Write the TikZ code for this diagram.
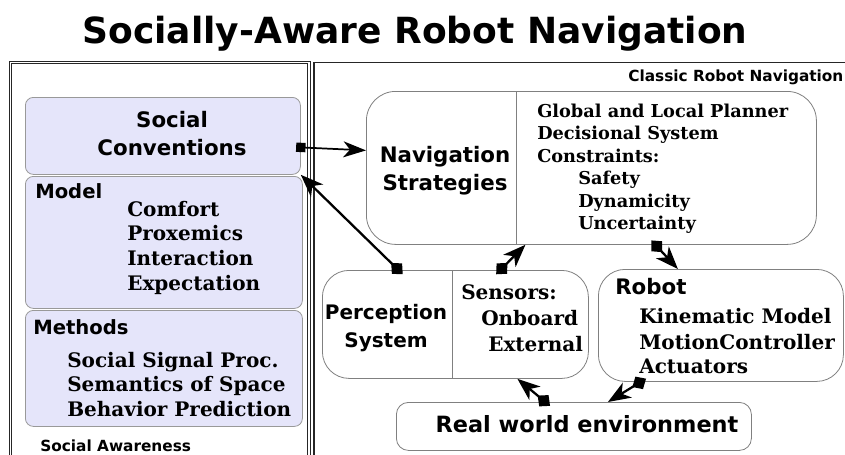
\documentclass[tikz,border=0pt]{standalone}
\usepackage{fontspec}
\setmainfont{DejaVu Serif}
\setsansfont{DejaVu Sans}
\usetikzlibrary{arrows.meta,calc}
\definecolor{lavfill}{RGB}{229,229,250}
\begin{document}
\begin{tikzpicture}[x=0.75pt,y=-0.75pt,
  lframe/.style={draw=black!85, line width=0.6pt, double=white, double distance=1.1pt},
  rframe/.style={draw=black!85, line width=1.1pt},
  lav/.style={draw=black!40, fill=lavfill, rounded corners=6pt, line width=0.6pt, anchor=north west, inner sep=0pt},
  wbox/.style={draw=black!50, fill=white, line width=0.6pt, anchor=north west, inner sep=0pt},
  ssf/.style={font=\sffamily\bfseries\fontsize{16}{19}\selectfont, inner sep=0pt},
  ssm/.style={font=\sffamily\bfseries\fontsize{14.7}{18}\selectfont, inner sep=0pt, anchor=base west},
  ssx/.style={font=\sffamily\bfseries\fontsize{11.5}{14}\selectfont, inner sep=0pt, anchor=base west},
  srf/.style={font=\rmfamily\bfseries\fontsize{15}{18}\selectfont, inner sep=0pt, anchor=base west},
  srn/.style={font=\rmfamily\bfseries\fontsize{13.3}{16}\selectfont, inner sep=0pt, anchor=base west},
  conn/.style={line width=1.7pt, shorten <=-4.5pt, {Diamond[length=12pt,width=11pt]}-{Stealth[length=17pt,width=13pt,inset=5pt]}},
  sqconn/.style={line width=1.3pt, shorten <=-3.5pt, {Square[length=7pt,width=7pt]}-{Stealth[length=17pt,width=12pt,inset=5pt]}}
]
\useasboundingbox (0,0) rectangle (845,454);
\fill[white] (0,0) rectangle (845,454);

% title
\node[font=\sffamily\bfseries\fontsize{27}{32}\selectfont, anchor=base, inner sep=0pt] (title) at (415,43) {Socially-Aware Robot Navigation};

% outer frames
\draw[lframe] (10.5,62.5) rectangle (309,480);
\draw[rframe] (314,62.5) rectangle (880,480);

% left column
\node[lav, minimum width=206.25pt, minimum height=57.75pt] (soc) at (25,97) {};
\node[lav, minimum width=207.75pt, minimum height=99pt] (model) at (25,176) {};
\node[lav, minimum width=207.75pt, minimum height=87pt] (meth) at (25,310) {};

\node[ssf, anchor=base] (socA) at (172,127) {Social};
\node[ssf, anchor=base] (socB) at (172,155) {Conventions};

\node[ssm] (modelL) at (35,198) {Model};
\node[srf] (m1) at (127,216) {Comfort};
\node[srf] (m2) at (127,240.5) {Proxemics};
\node[srf] (m3) at (127,265.5) {Interaction};
\node[srf] (m4) at (127,290) {Expectation};

\node[ssm] (methL) at (33,334) {Methods};
\node[srf] (t1) at (67,367) {Social Signal Proc.};
\node[srf] (t2) at (67,391.5) {Semantics of Space};
\node[srf] (t3) at (67,416) {Behavior Prediction};

\node[ssx] (saw) at (40,451) {Social Awareness};
\node[ssx] (crn) at (628,81) {Classic Robot Navigation};

% right column boxes
\node[wbox, rounded corners=22pt, minimum width=337.5pt, minimum height=114.75pt] (nav) at (366,91) {};
\draw[draw=black!50, line width=0.6pt] (nav.north -| 516,0) -- (nav.south -| 516,0);
\node[ssf, anchor=base] (navA) at (445,162) {Navigation};
\node[ssf, anchor=base] (navB) at (445,190) {Strategies};
\node[srn] (n1) at (537,117) {Global and Local Planner};
\node[srn] (n2) at (537,139.5) {Decisional System};
\node[srn] (n3) at (537,162) {Constraints:};
\node[srn] (n4) at (578,184.5) {Safety};
\node[srn] (n5) at (578,207) {Dynamicity};
\node[srn] (n6) at (578,229.5) {Uncertainty};

\node[wbox, rounded corners=20pt, minimum width=199.5pt, minimum height=81pt] (perc) at (322,270) {};
\draw[draw=black!50, line width=0.6pt] (perc.north -| 452,0) -- (perc.south -| 452,0);
\node[ssf, anchor=base, font=\sffamily\bfseries\fontsize{15}{18}\selectfont] (pA) at (386,319) {Perception};
\node[ssf, anchor=base, font=\sffamily\bfseries\fontsize{15}{18}\selectfont] (pB) at (386,347) {System};
\node[srf] (s1) at (461,299) {Sensors:};
\node[srf] (s2) at (481,325) {Onboard};
\node[srf] (s3) at (488,351) {External};

\node[wbox, rounded corners=20pt, minimum width=183.75pt, minimum height=84pt] (robot) at (598,269) {};
\node[ssf, anchor=base west] (rA) at (615,294) {Robot};
\node[srf] (r1) at (639,323) {Kinematic Model};
\node[srf] (r2) at (639,349) {MotionController};
\node[srf] (r3) at (639,373) {Actuators};

\node[wbox, rounded corners=9pt, minimum width=266.25pt, minimum height=36pt] (env) at (396,402) {};
\node[ssf, anchor=base, font=\sffamily\bfseries\fontsize{16.8}{20}\selectfont] (envT) at (587,432) {Real world environment};

% connectors
\draw[sqconn] ([shift={(0,11.5)}]soc.east) -- ([shift={(0,-17.5)}]nav.west);
\draw[conn] ([shift={(-57,0)}]perc.north) -- (soc.south east);
\draw[conn] ([shift={(45,0)}]perc.north) -- ([shift={(-66,0)}]nav.south);
\draw[conn] ([shift={(64,0)}]nav.south) -- ([shift={(-43,0)}]robot.north);
\draw[conn] ([shift={(-80,0)}]robot.south) -- ([shift={(34,0)}]env.north);
\draw[conn] ([shift={(-28.5,0)}]env.north) -- ([shift={(62,0)}]perc.south);
\end{tikzpicture}
\end{document}
